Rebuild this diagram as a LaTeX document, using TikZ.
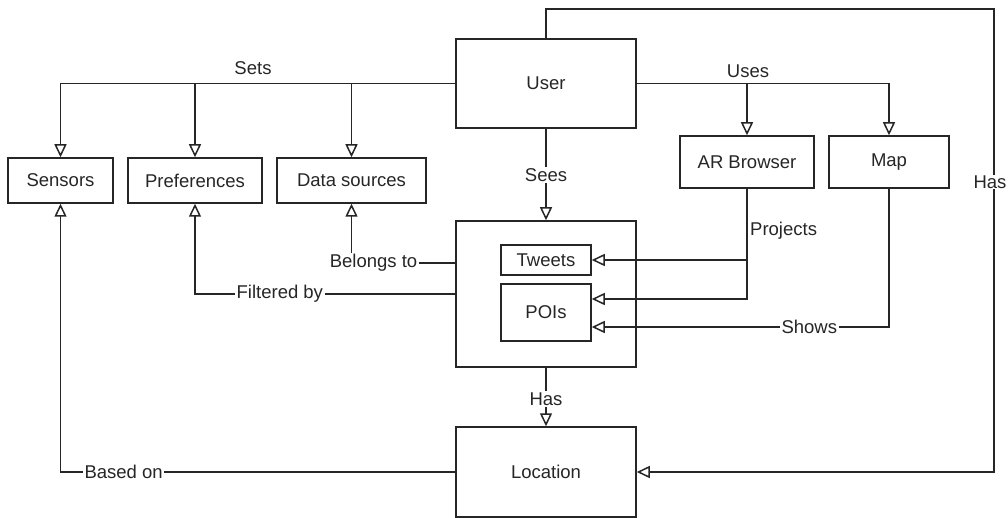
\documentclass[tikz,border=0pt]{standalone}
\usepackage{fontspec}
\setmainfont{Liberation Sans}
\usetikzlibrary{arrows.meta}
\begin{document}
\begin{tikzpicture}[x=1pt,y=-1pt,
  font=\fontsize{18.5}{22}\selectfont,
  box/.style 2 args={draw=black!85, line width=1.5pt, fill=white, inner sep=0pt,
    minimum width=#1pt, minimum height=#2pt, text=black!85},
  arr/.style={draw=black!85, line width=1.5pt,
    -{Triangle[open, length=13pt, width=12pt, line width=1.5pt]}},
  lbl/.style={fill=white, inner sep=1.5pt, text=black!85},
  plain/.style={inner sep=0pt, text=black!85}]
\useasboundingbox (0,0) rectangle (1008,518);

% boxes
\node[box={180}{89}]  (user)     at (546,83.5)  {User};
\node[box={105}{45}]  (sensors)  at (60.5,180.5) {Sensors};
\node[box={134}{45}]  (prefs)    at (195,180.5) {Preferences};
\node[box={149}{45}]  (dsrc)     at (351.5,180.5) {Data sources};
\node[box={134}{52}]  (arb)      at (747,162)   {AR Browser};
\node[box={120}{52}]  (map)      at (889,162)   {Map};
\node[box={180}{146}] (feed)     at (546,294)   {};
\node[box={90}{30}]   (tweets)   at (546,260)   {Tweets};
\node[box={90}{57}]   (pois)     at (546,312.5) {POIs};
\node[box={180}{90}]  (location) at (546,472)   {Location};

\coordinate (topright) at (994,9);

% user sets its sensors, preferences and data sources
\draw[arr] (user.west) -| (sensors.north);
\draw[arr] (user.west) -| (prefs.north);
\draw[arr] (user.west) -| (dsrc.north);
\node[plain] (sets) at (253,68) {Sets};

% user uses the AR browser and the map
\draw[arr] (user.east) -| (arb.north);
\draw[arr] (user.east) -| (map.north);
\node[plain] (uses) at (748,71) {Uses};

% user has a location
\draw[arr] (user.north) |- (topright) |- (location.east);
\node[lbl, inner sep=1pt] (hasright) at (990,182) {Has};

% user sees the feed
\draw[arr] (user.south) -- node[lbl, pos=0.51] {Sees} (feed.north);

% AR browser projects tweets and POIs
\draw[arr] (arb.south) |- ([yshift=13.5pt]pois.east);
\draw[arr] (arb.south |- tweets.east) -- (tweets.east);
\node[plain, anchor=west] (proj) at (750,230.5) {Projects};

% map shows POIs
\draw[arr] (map.south) |- node[lbl, pos=0.634] {Shows} ([yshift=-14.5pt]pois.east);

% feed relations
\draw[arr] ([yshift=31pt]feed.west) -| node[lbl, pos=0.394] {Belongs to} (dsrc.south);
\draw[arr] (feed.west) -| node[lbl, pos=0.337] {Filtered by} (prefs.south);
\draw[arr] (feed.south) -- node[lbl, pos=0.53] {Has} (location.north);

% location based on sensors
\draw[arr] (location.west) -| node[lbl, pos=0.42] {Based on} (sensors.south);
\end{tikzpicture}
\end{document}
